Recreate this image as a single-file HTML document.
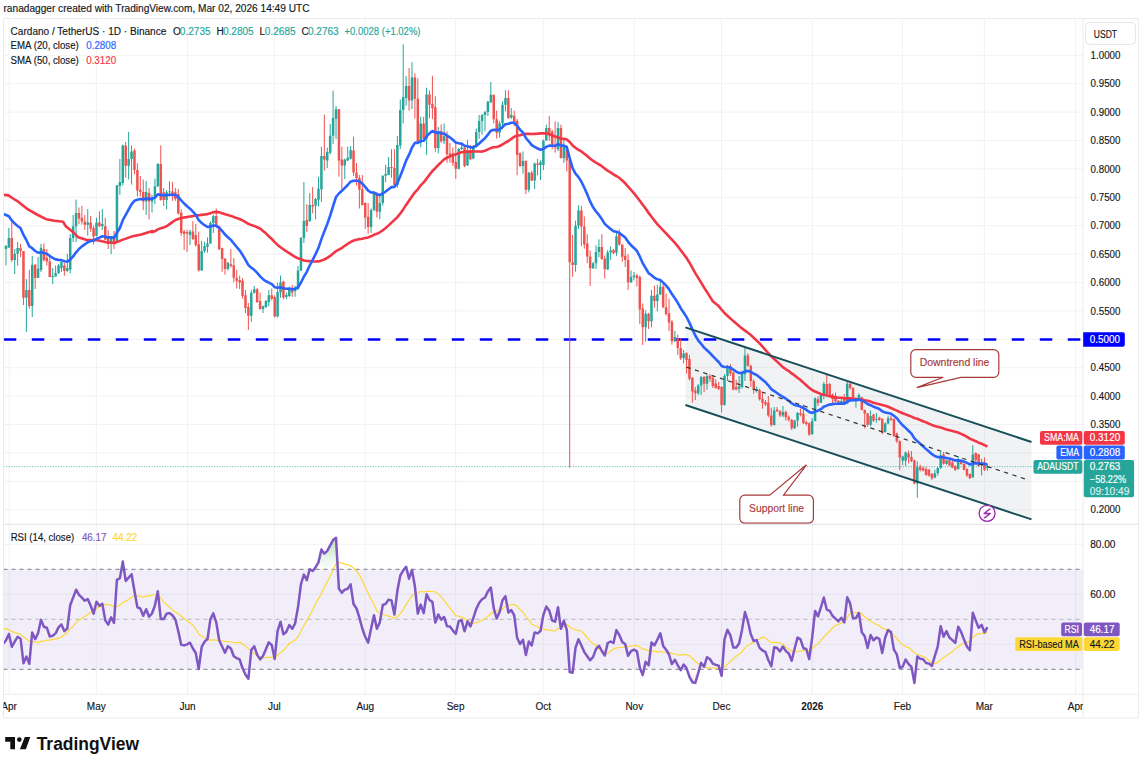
<!DOCTYPE html><html><head><meta charset="utf-8"><style>html,body{margin:0;padding:0;background:#fff;}svg{display:block;}</style></head><body><svg width="1144" height="764" viewBox="0 0 1144 764" font-family='"Liberation Sans", sans-serif'>
<rect width="1144" height="764" fill="#ffffff"/>
<text x="3.5" y="11.9" font-size="10.2" fill="#131722" text-anchor="start" font-weight="normal" stroke="#131722" stroke-width="0.15" textLength="306" lengthAdjust="spacingAndGlyphs">ranadagger created with TradingView.com, Mar 02, 2026 14:49 UTC</text>
<defs><clipPath id="cm"><rect x="3.5" y="18.5" width="1079.5" height="505.79999999999995"/></clipPath><clipPath id="cr"><rect x="3.5" y="524.3" width="1079.5" height="170.0"/></clipPath><clipPath id="ct"><rect x="3.5" y="694.3" width="1079.5" height="23.700000000000045"/></clipPath></defs>
<path d="M9.0 18.5V694.3 M96.3 18.5V694.3 M187.6 18.5V694.3 M274.3 18.5V694.3 M365.3 18.5V694.3 M455.6 18.5V694.3 M543.3 18.5V694.3 M634.3 18.5V694.3 M721.5 18.5V694.3 M812.3 18.5V694.3 M902.4 18.5V694.3 M984.3 18.5V694.3 M1075.5 18.5V694.3 M3.5 55.3H1083 M3.5 83.7H1083 M3.5 112.1H1083 M3.5 140.5H1083 M3.5 168.9H1083 M3.5 197.3H1083 M3.5 225.7H1083 M3.5 254.1H1083 M3.5 282.5H1083 M3.5 310.9H1083 M3.5 339.3H1083 M3.5 367.7H1083 M3.5 396.1H1083 M3.5 424.5H1083 M3.5 452.9H1083 M3.5 481.3H1083 M3.5 509.7H1083 M3.5 544.3H1083 M3.5 594.3H1083 M3.5 644.3H1083" stroke="#f2f2f3" stroke-width="1" fill="none"/>
<g clip-path="url(#cm)">
<polygon points="685.4,327.4 1031.5,442.0 1031.5,519.4 685.4,405.0" fill="#5d6b80" fill-opacity="0.09"/>
<path d="M3.5 466.6H1034" stroke="#26a69a" stroke-width="1" stroke-dasharray="1 1.6" opacity="0.8"/>
<path d="M3.8 339.5H1083" stroke="#0000ff" stroke-width="2.6" stroke-dasharray="12.5 15.5"/>
<path d="M5.95 245.0V265.5M8.87 228.0V248.0M14.71 249.0V274.0M17.63 242.0V265.5M26.40 279.0V332.0M32.24 256.0V317.0M38.08 257.0V278.0M41.00 244.0V272.0M52.68 268.0V284.0M55.61 265.5V276.5M58.53 264.0V274.0M61.45 262.0V272.0M67.29 253.8V271.8M70.21 234.0V273.4M73.13 215.0V242.0M76.05 199.6V242.0M87.74 209.0V235.7M96.50 217.7V236.5M102.34 209.0V230.0M111.11 237.0V254.0M116.95 185.0V242.4M119.87 159.0V194.8M122.79 144.6V185.4M128.63 131.8V179.5M131.55 145.4V184.6M146.16 181.0V215.0M152.00 194.8V212.6M154.92 178.6V204.0M157.84 163.0V187.0M166.60 190.0V209.3M169.53 181.3V196.6M189.97 229.8V245.0M201.66 240.8V270.6M204.58 241.7V252.7M207.50 237.4V252.7M210.42 221.3V243.4M213.34 214.5V233.0M227.94 262.0V270.6M251.31 290.0V321.7M254.23 286.0V293.6M263.00 305.5V313.0M265.92 300.0V308.0M268.84 290.0V306.3M277.60 282.5V317.4M280.52 275.6V297.7M286.37 292.5V299.3M289.29 286.6V296.8M295.13 285.7V296.8M298.05 266.0V290.0M300.97 237.0V271.2M303.89 182.0V243.0M309.73 193.0V222.0M315.57 198.0V219.3M318.50 176.8V206.6M321.42 146.8V202.0M327.26 147.6V168.0M330.18 123.8V154.4M333.10 90.6V144.2M336.02 106.0V139.0M344.78 158.7V179.0M347.71 146.8V161.2M350.63 146.0V159.5M371.07 208.3V233.0M374.00 191.0V211.0M379.84 194.7V219.3M382.76 175.0V205.7M385.68 164.8V182.2M388.60 157.0V174.9M397.36 136.0V187.7M400.28 99.7V149.0M403.20 44.4V123.5M406.13 75.8V105.6M411.97 62.2V109.0M420.73 116.7V147.3M426.57 87.7V155.0M438.26 126.9V153.3M444.10 123.5V144.0M458.70 148.0V169.5M461.62 145.0V150.0M467.47 139.8V166.0M473.31 145.0V159.3M476.23 128.7V147.4M479.15 115.0V139.0M482.07 114.0V134.7M484.99 110.8V131.3M487.91 101.0V116.0M490.83 82.0V103.0M499.60 120.8V137.8M502.52 101.3V129.3M505.44 90.2V111.5M511.28 108.0V119.0M522.97 151.5V173.6M528.81 171.9V192.3M534.65 162.5V189.0M540.49 160.4V180.0M543.41 139.6V170.0M546.33 124.7V140.8M558.02 122.0V151.0M563.86 140.0V163.0M575.54 220.6V271.7M578.46 205.3V229.0M593.07 262.0V269.0M595.99 245.3V269.0M598.91 239.3V257.2M607.67 250.0V270.0M610.60 246.5V260.0M616.44 232.0V255.8M631.04 270.3V283.0M633.96 272.0V280.5M645.65 310.3V341.8M651.49 289.9V327.3M657.33 284.8V311.5M660.25 280.5V295.0M674.86 331.0V342.0M683.62 349.8V363.4M698.23 384.0V395.0M701.15 376.0V394.9M706.99 374.4V389.6M724.51 374.2V405.7M727.44 364.9V381.0M739.12 376.0V393.0M742.04 370.8V388.7M744.96 347.0V381.0M756.65 386.6V392.5M774.17 407.0V425.7M782.93 406.0V417.2M794.62 419.8V429.0M797.54 412.0V426.6M812.14 417.9V434.9M815.07 397.4V421.3M820.91 393.0V403.0M823.83 381.8V399.3M841.35 398.3V405.0M847.20 382.0V404.2M855.96 396.9V407.7M858.88 393.3V399.5M870.56 410.6V426.3M876.41 412.9V422.7M885.17 422.5V432.7M888.09 415.7V424.2M902.70 455.7V465.0M905.62 451.5V466.0M917.30 461.3V497.8M934.83 469.8V478.3M937.75 467.2V475.7M940.67 452.0V469.0M946.51 459.6V464.7M958.19 456.0V469.7M972.80 445.2V477.6M981.56 458.9V475.4M987.40 464.0V470.8" stroke="#26a69a" stroke-width="1" fill="none"/>
<path d="M11.79 220.0V262.0M20.55 244.0V257.0M23.47 251.0V305.0M29.32 270.0V308.7M35.16 264.0V289.0M43.92 243.5V261.6M46.84 249.0V265.5M49.76 254.5V277.0M64.37 263.0V275.8M78.97 207.5V224.0M81.89 206.0V224.7M84.82 215.0V230.0M90.66 216.0V231.8M93.58 225.5V244.4M99.42 211.4V227.0M105.26 217.7V239.7M108.18 230.0V249.0M114.03 231.0V249.0M125.71 142.0V177.7M134.47 148.8V174.3M137.39 163.3V196.5M140.31 176.0V196.5M143.24 179.5V210.0M149.08 188.0V219.4M160.76 145.4V200.7M163.68 188.0V206.0M172.45 182.0V200.8M175.37 188.0V200.8M178.29 189.0V214.5M181.21 209.3V235.7M184.13 229.8V250.0M187.05 229.8V252.0M192.89 221.0V240.0M195.81 223.8V246.8M198.73 231.5V271.5M216.26 208.5V228.0M219.18 225.5V250.0M222.10 247.6V271.8M225.02 258.3V274.8M230.87 249.1V267.7M233.79 258.0V282.4M236.71 269.8V288.5M239.63 275.6V289.0M242.55 278.0V298.7M245.47 290.0V313.0M248.39 303.0V330.0M257.15 288.0V303.0M260.08 292.7V309.7M271.76 288.5V300.4M274.68 295.3V317.4M283.44 280.6V299.3M292.21 284.9V296.8M306.81 204.0V232.0M312.65 187.0V213.4M324.34 114.5V170.6M338.94 109.3V176.6M341.86 146.8V190.0M353.55 136.8V176.0M356.47 163.0V185.5M359.39 175.0V208.5M362.31 175.0V205.5M365.23 202.3V228.7M368.15 203.0V233.8M376.92 192.0V217.6M391.52 149.2V177.7M394.44 149.2V186.8M409.05 68.0V110.7M414.89 73.3V118.4M417.81 78.4V143.9M423.65 116.7V139.6M429.49 90.3V118.4M432.41 75.8V119.2M435.34 96.3V151.6M441.18 124.3V143.0M447.02 131.3V162.7M449.94 143.0V162.7M452.86 147.4V166.0M455.78 143.0V178.9M464.55 145.0V167.0M470.39 145.0V160.0M493.76 94.7V123.4M496.68 110.6V138.7M508.36 90.2V118.3M514.20 110.6V126.0M517.12 119.0V175.3M520.04 152.3V166.8M525.89 160.8V194.0M531.73 171.0V181.0M537.57 159.0V175.3M549.25 116.0V140.8M552.18 129.8V149.3M555.10 121.3V152.7M560.94 124.7V158.7M566.78 146.8V171.5M569.70 159.6V467.7M572.62 235.0V276.8M581.39 206.0V246.0M584.31 216.4V248.7M587.23 234.2V263.2M590.15 250.4V286.0M601.83 234.2V259.8M604.75 255.5V278.5M613.52 249.0V254.0M619.36 229.5V245.6M622.28 244.0V261.8M625.20 248.0V267.0M628.12 254.0V289.9M636.88 273.7V286.5M639.81 275.4V324.0M642.73 303.5V345.0M648.57 312.8V329.0M654.41 285.6V307.7M663.17 282.0V308.0M666.09 293.6V315.7M669.02 298.7V331.0M671.94 320.0V344.7M677.78 334.5V354.9M680.70 338.7V360.0M686.54 352.3V373.6M689.46 354.9V380.4M692.38 377.0V402.5M695.30 387.0V400.0M704.07 376.0V392.3M709.91 374.0V382.0M712.83 375.0V388.0M715.75 379.3V388.7M718.67 382.0V390.0M721.59 386.2V412.5M730.36 364.0V376.0M733.28 371.7V390.4M736.20 380.0V390.4M747.88 353.0V366.6M750.80 364.9V387.0M753.72 379.3V393.8M759.57 388.7V400.6M762.49 392.5V408.7M765.41 400.0V406.0M768.33 396.0V417.2M771.25 407.8V426.6M777.09 407.0V412.0M780.01 410.0V417.0M785.86 410.4V420.6M788.78 415.5V421.5M791.70 419.0V430.0M800.46 408.7V416.4M803.38 404.5V424.0M806.30 420.6V425.7M809.22 422.3V436.0M817.99 396.2V405.9M826.75 375.0V394.5M829.67 383.0V395.7M832.59 393.6V404.6M835.51 392.5V402.0M838.43 400.0V404.5M844.28 394.0V405.0M850.12 381.3V389.8M853.04 387.0V400.0M861.80 396.9V410.3M864.72 409.6V428.6M867.64 413.2V426.6M873.49 413.9V422.0M879.33 416.8V420.8M882.25 418.3V433.6M891.01 415.7V421.0M893.93 418.3V437.0M896.85 432.7V443.0M899.77 440.4V470.2M908.54 450.6V463.4M911.46 451.0V462.0M914.38 459.6V484.4M920.22 464.7V471.5M923.14 466.4V471.5M926.06 467.2V475.7M928.98 468.9V476.6M931.91 473.0V480.0M943.59 452.0V464.7M949.43 458.9V466.0M952.35 461.0V468.2M955.27 465.4V471.0M961.12 460.3V464.7M964.04 463.2V470.4M966.96 468.2V476.9M969.88 473.3V479.0M975.72 452.4V461.8M978.64 453.8V466.8M984.48 457.4V471.0" stroke="#ef5350" stroke-width="1" fill="none"/>
<path d="M4.70 246.0h2.5V249.0h-2.5ZM7.62 238.0h2.5V247.5h-2.5ZM13.46 253.7h2.5V260.0h-2.5ZM16.38 248.0h2.5V253.7h-2.5ZM25.15 290.0h2.5V297.7h-2.5ZM30.99 264.7h2.5V306.0h-2.5ZM36.83 268.7h2.5V278.0h-2.5ZM39.75 248.0h2.5V270.0h-2.5ZM51.43 276.0h2.5V277.0h-2.5ZM54.36 273.0h2.5V276.5h-2.5ZM57.28 265.5h2.5V273.0h-2.5ZM60.20 262.0h2.5V268.0h-2.5ZM66.04 268.0h2.5V271.0h-2.5ZM68.96 238.0h2.5V269.5h-2.5ZM71.88 226.3h2.5V238.0h-2.5ZM74.80 213.0h2.5V226.3h-2.5ZM86.49 222.4h2.5V224.7h-2.5ZM95.25 222.4h2.5V235.7h-2.5ZM101.09 224.0h2.5V226.3h-2.5ZM109.86 237.0h2.5V244.0h-2.5ZM115.70 185.4h2.5V242.4h-2.5ZM118.62 182.0h2.5V186.0h-2.5ZM121.54 145.4h2.5V182.9h-2.5ZM127.38 159.0h2.5V165.8h-2.5ZM130.30 151.4h2.5V159.0h-2.5ZM144.91 192.0h2.5V201.6h-2.5ZM150.75 197.3h2.5V201.6h-2.5ZM153.67 186.3h2.5V198.0h-2.5ZM156.59 164.0h2.5V186.3h-2.5ZM165.35 192.3h2.5V200.0h-2.5ZM168.28 191.5h2.5V192.3h-2.5ZM188.72 231.5h2.5V235.0h-2.5ZM200.41 251.0h2.5V270.6h-2.5ZM203.33 246.0h2.5V251.0h-2.5ZM206.25 243.4h2.5V246.8h-2.5ZM209.17 223.0h2.5V243.4h-2.5ZM212.09 216.0h2.5V223.0h-2.5ZM226.69 262.7h2.5V268.9h-2.5ZM250.06 292.7h2.5V315.7h-2.5ZM252.98 289.3h2.5V292.7h-2.5ZM261.75 306.3h2.5V309.0h-2.5ZM264.67 301.0h2.5V307.0h-2.5ZM267.59 295.3h2.5V302.0h-2.5ZM276.35 292.0h2.5V316.6h-2.5ZM279.27 282.5h2.5V292.5h-2.5ZM285.12 295.0h2.5V297.0h-2.5ZM288.04 288.3h2.5V296.0h-2.5ZM293.88 287.5h2.5V291.0h-2.5ZM296.80 270.4h2.5V289.0h-2.5ZM299.72 238.0h2.5V270.4h-2.5ZM302.64 221.0h2.5V238.0h-2.5ZM308.48 205.0h2.5V221.0h-2.5ZM314.32 199.0h2.5V205.7h-2.5ZM317.25 188.7h2.5V199.8h-2.5ZM320.17 156.0h2.5V189.6h-2.5ZM326.01 151.9h2.5V160.4h-2.5ZM328.93 135.7h2.5V152.7h-2.5ZM331.85 117.9h2.5V135.7h-2.5ZM334.77 109.3h2.5V118.7h-2.5ZM343.53 159.5h2.5V165.5h-2.5ZM346.46 157.8h2.5V160.4h-2.5ZM349.38 150.0h2.5V158.7h-2.5ZM369.82 210.0h2.5V227.0h-2.5ZM372.75 192.0h2.5V210.0h-2.5ZM378.59 203.0h2.5V211.7h-2.5ZM381.51 176.0h2.5V203.0h-2.5ZM384.43 174.0h2.5V175.8h-2.5ZM387.35 167.1h2.5V174.9h-2.5ZM396.11 145.1h2.5V185.0h-2.5ZM399.03 109.9h2.5V145.6h-2.5ZM401.95 97.0h2.5V109.9h-2.5ZM404.88 86.0h2.5V98.0h-2.5ZM410.72 77.5h2.5V100.5h-2.5ZM419.48 123.5h2.5V143.0h-2.5ZM425.32 94.6h2.5V138.8h-2.5ZM437.01 131.0h2.5V148.0h-2.5ZM442.85 136.2h2.5V141.3h-2.5ZM457.45 149.0h2.5V168.7h-2.5ZM460.38 147.4h2.5V149.0h-2.5ZM466.22 150.8h2.5V165.3h-2.5ZM472.06 146.6h2.5V158.5h-2.5ZM474.98 132.0h2.5V146.6h-2.5ZM477.90 121.0h2.5V132.0h-2.5ZM480.82 115.0h2.5V121.0h-2.5ZM483.74 112.0h2.5V115.0h-2.5ZM486.66 101.5h2.5V112.0h-2.5ZM489.58 94.7h2.5V102.3h-2.5ZM498.35 123.4h2.5V132.7h-2.5ZM501.27 104.7h2.5V123.4h-2.5ZM504.19 97.9h2.5V104.7h-2.5ZM510.03 114.9h2.5V117.4h-2.5ZM521.72 160.8h2.5V166.0h-2.5ZM527.56 172.7h2.5V189.7h-2.5ZM533.40 163.4h2.5V180.4h-2.5ZM539.24 162.0h2.5V165.0h-2.5ZM542.16 140.4h2.5V165.0h-2.5ZM545.08 128.0h2.5V140.4h-2.5ZM556.77 128.0h2.5V149.3h-2.5ZM562.61 146.8h2.5V157.9h-2.5ZM574.29 225.7h2.5V264.9h-2.5ZM577.21 210.4h2.5V225.7h-2.5ZM591.82 263.2h2.5V268.3h-2.5ZM594.74 252.0h2.5V263.2h-2.5ZM597.66 247.0h2.5V252.0h-2.5ZM606.42 252.4h2.5V269.5h-2.5ZM609.35 250.4h2.5V252.4h-2.5ZM615.19 236.3h2.5V252.4h-2.5ZM629.79 277.0h2.5V282.2h-2.5ZM632.71 275.4h2.5V277.0h-2.5ZM644.40 313.7h2.5V327.3h-2.5ZM650.24 295.8h2.5V321.3h-2.5ZM656.08 294.5h2.5V301.0h-2.5ZM659.00 286.8h2.5V294.5h-2.5ZM673.61 337.0h2.5V341.3h-2.5ZM682.37 353.2h2.5V358.3h-2.5ZM696.98 385.5h2.5V393.2h-2.5ZM699.90 377.0h2.5V385.5h-2.5ZM705.74 376.0h2.5V383.8h-2.5ZM723.26 376.0h2.5V404.9h-2.5ZM726.19 366.6h2.5V376.0h-2.5ZM737.87 386.2h2.5V388.7h-2.5ZM740.79 374.2h2.5V387.0h-2.5ZM743.71 355.5h2.5V374.2h-2.5ZM755.40 389.0h2.5V391.0h-2.5ZM772.92 410.4h2.5V424.9h-2.5ZM781.68 412.0h2.5V415.5h-2.5ZM793.37 420.6h2.5V428.3h-2.5ZM796.29 413.0h2.5V420.6h-2.5ZM810.89 421.0h2.5V434.0h-2.5ZM813.82 398.3h2.5V421.0h-2.5ZM819.66 394.6h2.5V402.7h-2.5ZM822.58 384.1h2.5V395.7h-2.5ZM840.10 400.9h2.5V403.5h-2.5ZM845.95 383.8h2.5V403.4h-2.5ZM854.71 398.8h2.5V399.8h-2.5ZM857.63 395.0h2.5V399.0h-2.5ZM869.31 415.9h2.5V424.7h-2.5ZM875.16 419.0h2.5V419.8h-2.5ZM883.92 423.4h2.5V431.9h-2.5ZM886.84 418.3h2.5V423.4h-2.5ZM901.45 456.6h2.5V460.8h-2.5ZM904.37 452.5h2.5V460.8h-2.5ZM916.05 467.2h2.5V483.4h-2.5ZM933.58 473.2h2.5V477.4h-2.5ZM936.50 468.0h2.5V473.2h-2.5ZM939.42 455.3h2.5V468.0h-2.5ZM945.26 460.3h2.5V464.0h-2.5ZM956.94 460.3h2.5V469.0h-2.5ZM971.55 454.6h2.5V477.6h-2.5ZM980.31 463.6h2.5V465.0h-2.5ZM986.15 466.4h2.5V468.0h-2.5Z" fill="#26a69a"/>
<path d="M10.54 238.0h2.5V260.0h-2.5ZM19.30 248.0h2.5V251.0h-2.5ZM22.22 251.0h2.5V297.7h-2.5ZM28.07 290.0h2.5V306.0h-2.5ZM33.91 264.7h2.5V278.0h-2.5ZM42.67 249.0h2.5V260.0h-2.5ZM45.59 257.7h2.5V261.6h-2.5ZM48.51 261.6h2.5V277.0h-2.5ZM63.12 265.6h2.5V271.0h-2.5ZM77.72 213.0h2.5V218.5h-2.5ZM80.64 217.7h2.5V221.6h-2.5ZM83.57 221.6h2.5V224.7h-2.5ZM89.41 222.4h2.5V228.7h-2.5ZM92.33 228.0h2.5V236.5h-2.5ZM98.17 222.4h2.5V226.3h-2.5ZM104.01 226.3h2.5V239.7h-2.5ZM106.93 236.0h2.5V244.0h-2.5ZM112.78 236.5h2.5V242.4h-2.5ZM124.46 145.4h2.5V165.8h-2.5ZM133.22 150.5h2.5V170.0h-2.5ZM136.14 170.0h2.5V190.5h-2.5ZM139.06 189.7h2.5V192.0h-2.5ZM141.99 192.0h2.5V201.6h-2.5ZM147.83 193.0h2.5V201.6h-2.5ZM159.51 164.0h2.5V199.9h-2.5ZM162.43 192.3h2.5V200.0h-2.5ZM171.20 191.5h2.5V194.0h-2.5ZM174.12 192.3h2.5V199.0h-2.5ZM177.04 194.0h2.5V213.6h-2.5ZM179.96 212.7h2.5V233.0h-2.5ZM182.88 231.5h2.5V234.0h-2.5ZM185.80 231.9h2.5V233.4h-2.5ZM191.64 231.5h2.5V239.0h-2.5ZM194.56 235.0h2.5V245.0h-2.5ZM197.48 244.2h2.5V270.6h-2.5ZM215.01 216.0h2.5V226.4h-2.5ZM217.93 226.4h2.5V249.3h-2.5ZM220.85 248.2h2.5V258.9h-2.5ZM223.77 258.6h2.5V268.9h-2.5ZM229.62 264.2h2.5V265.9h-2.5ZM232.54 265.3h2.5V277.7h-2.5ZM235.46 277.7h2.5V280.7h-2.5ZM238.38 280.0h2.5V282.4h-2.5ZM241.30 280.8h2.5V296.0h-2.5ZM244.22 295.3h2.5V308.0h-2.5ZM247.14 307.0h2.5V315.7h-2.5ZM255.90 289.3h2.5V302.0h-2.5ZM258.83 301.0h2.5V309.0h-2.5ZM270.51 295.3h2.5V298.7h-2.5ZM273.43 297.0h2.5V316.6h-2.5ZM282.19 281.4h2.5V297.6h-2.5ZM290.96 289.0h2.5V292.5h-2.5ZM305.56 220.0h2.5V226.0h-2.5ZM311.40 205.0h2.5V206.6h-2.5ZM323.09 156.0h2.5V159.5h-2.5ZM337.69 109.3h2.5V160.4h-2.5ZM340.61 159.5h2.5V165.5h-2.5ZM352.30 150.4h2.5V172.4h-2.5ZM355.22 172.4h2.5V178.0h-2.5ZM358.14 178.0h2.5V189.7h-2.5ZM361.06 189.2h2.5V204.9h-2.5ZM363.98 203.0h2.5V217.6h-2.5ZM366.90 216.8h2.5V227.0h-2.5ZM375.67 193.8h2.5V211.7h-2.5ZM390.27 167.1h2.5V168.0h-2.5ZM393.19 168.0h2.5V185.0h-2.5ZM407.80 86.0h2.5V100.5h-2.5ZM413.64 77.5h2.5V98.8h-2.5ZM416.56 98.8h2.5V143.0h-2.5ZM422.40 123.5h2.5V138.8h-2.5ZM428.24 94.6h2.5V104.8h-2.5ZM431.16 104.0h2.5V108.2h-2.5ZM434.09 107.3h2.5V148.0h-2.5ZM439.93 131.0h2.5V141.3h-2.5ZM445.77 136.2h2.5V154.2h-2.5ZM448.69 153.4h2.5V155.0h-2.5ZM451.61 153.4h2.5V162.7h-2.5ZM454.53 161.9h2.5V168.7h-2.5ZM463.30 147.4h2.5V166.0h-2.5ZM469.14 150.0h2.5V159.3h-2.5ZM492.51 94.7h2.5V119.3h-2.5ZM495.43 119.3h2.5V132.7h-2.5ZM507.11 97.9h2.5V118.3h-2.5ZM512.95 115.7h2.5V121.7h-2.5ZM515.87 120.8h2.5V154.9h-2.5ZM518.79 153.2h2.5V166.0h-2.5ZM524.64 160.8h2.5V189.7h-2.5ZM530.48 172.7h2.5V180.4h-2.5ZM536.32 163.4h2.5V165.0h-2.5ZM548.00 128.0h2.5V133.2h-2.5ZM550.93 131.5h2.5V146.0h-2.5ZM553.85 145.0h2.5V147.6h-2.5ZM559.69 128.0h2.5V157.9h-2.5ZM565.53 146.8h2.5V160.4h-2.5ZM568.45 159.6h2.5V262.3h-2.5ZM571.37 262.3h2.5V264.9h-2.5ZM580.14 210.4h2.5V226.6h-2.5ZM583.06 226.6h2.5V244.5h-2.5ZM585.98 243.6h2.5V256.4h-2.5ZM588.90 256.4h2.5V268.3h-2.5ZM600.58 247.0h2.5V258.9h-2.5ZM603.50 258.4h2.5V269.3h-2.5ZM612.27 250.0h2.5V253.3h-2.5ZM618.11 234.0h2.5V244.8h-2.5ZM621.03 244.8h2.5V256.7h-2.5ZM623.95 255.8h2.5V260.0h-2.5ZM626.87 260.0h2.5V282.2h-2.5ZM635.63 275.4h2.5V278.0h-2.5ZM638.56 277.0h2.5V309.4h-2.5ZM641.48 308.6h2.5V327.3h-2.5ZM647.32 313.7h2.5V321.3h-2.5ZM653.16 295.8h2.5V301.0h-2.5ZM661.92 286.8h2.5V307.2h-2.5ZM664.84 307.2h2.5V314.0h-2.5ZM667.77 313.2h2.5V322.5h-2.5ZM670.69 321.7h2.5V341.3h-2.5ZM676.53 338.7h2.5V348.0h-2.5ZM679.45 348.0h2.5V358.3h-2.5ZM685.29 353.2h2.5V360.0h-2.5ZM688.21 359.0h2.5V378.7h-2.5ZM691.13 377.8h2.5V391.5h-2.5ZM694.05 390.6h2.5V393.2h-2.5ZM702.82 377.0h2.5V383.8h-2.5ZM708.66 376.0h2.5V378.7h-2.5ZM711.58 377.8h2.5V386.0h-2.5ZM714.50 383.6h2.5V387.9h-2.5ZM717.42 386.0h2.5V389.0h-2.5ZM720.34 387.0h2.5V404.9h-2.5ZM729.11 366.6h2.5V373.4h-2.5ZM732.03 372.5h2.5V389.6h-2.5ZM734.95 387.0h2.5V389.6h-2.5ZM746.63 355.5h2.5V365.7h-2.5ZM749.55 365.7h2.5V381.0h-2.5ZM752.47 381.0h2.5V390.0h-2.5ZM758.32 390.0h2.5V399.3h-2.5ZM761.24 398.5h2.5V402.7h-2.5ZM764.16 401.9h2.5V404.4h-2.5ZM767.08 402.7h2.5V415.5h-2.5ZM770.00 415.5h2.5V424.9h-2.5ZM775.84 409.6h2.5V411.3h-2.5ZM778.76 411.3h2.5V415.5h-2.5ZM784.61 412.0h2.5V417.2h-2.5ZM787.53 417.2h2.5V419.8h-2.5ZM790.45 419.8h2.5V428.3h-2.5ZM799.21 413.0h2.5V414.7h-2.5ZM802.13 413.8h2.5V423.2h-2.5ZM805.05 422.3h2.5V424.0h-2.5ZM807.97 423.2h2.5V434.5h-2.5ZM816.74 399.3h2.5V403.0h-2.5ZM825.50 384.1h2.5V394.1h-2.5ZM828.42 384.1h2.5V395.1h-2.5ZM831.34 394.6h2.5V399.3h-2.5ZM834.26 395.7h2.5V401.4h-2.5ZM837.18 400.9h2.5V403.5h-2.5ZM843.03 397.4h2.5V404.2h-2.5ZM848.87 383.8h2.5V388.0h-2.5ZM851.79 388.0h2.5V399.0h-2.5ZM860.55 397.2h2.5V410.0h-2.5ZM863.47 410.0h2.5V413.6h-2.5ZM866.39 413.2h2.5V424.7h-2.5ZM872.24 414.5h2.5V420.8h-2.5ZM878.08 417.5h2.5V420.1h-2.5ZM881.00 418.8h2.5V433.2h-2.5ZM889.76 418.3h2.5V420.0h-2.5ZM892.68 419.0h2.5V436.0h-2.5ZM895.60 433.6h2.5V441.3h-2.5ZM898.52 441.3h2.5V457.4h-2.5ZM907.29 453.4h2.5V457.6h-2.5ZM910.21 457.0h2.5V461.3h-2.5ZM913.13 460.4h2.5V483.6h-2.5ZM918.97 467.2h2.5V469.8h-2.5ZM921.89 468.0h2.5V470.6h-2.5ZM924.81 469.0h2.5V475.0h-2.5ZM927.73 469.8h2.5V475.7h-2.5ZM930.66 474.0h2.5V478.3h-2.5ZM942.34 454.5h2.5V463.8h-2.5ZM948.18 460.3h2.5V465.4h-2.5ZM951.10 462.5h2.5V467.5h-2.5ZM954.02 466.0h2.5V469.7h-2.5ZM959.87 461.0h2.5V464.0h-2.5ZM962.79 464.0h2.5V469.7h-2.5ZM965.71 469.0h2.5V475.4h-2.5ZM968.63 474.0h2.5V478.3h-2.5ZM974.47 453.0h2.5V460.3h-2.5ZM977.39 454.6h2.5V466.0h-2.5ZM983.23 461.8h2.5V469.7h-2.5Z" fill="#ef5350"/>
<polyline points="3.5,194.7 8.4,195.4 13.0,198.5 18.2,201.7 28.0,209.4 37.8,215.0 46.2,219.2 54.5,220.8 63.0,221.7 65.7,226.2 72.7,231.7 78.3,237.3 86.7,240.1 96.5,240.1 106.3,242.2 114.7,243.0 121.7,240.1 131.5,236.6 141.3,234.5 152.4,231.0 152.0,232.3 154.9,231.3 157.8,229.4 160.8,228.3 163.7,227.4 166.6,226.2 169.5,224.1 172.4,222.1 175.4,220.0 178.3,219.0 181.2,218.1 184.1,217.4 187.1,217.1 190.0,216.5 192.9,216.1 195.8,215.4 198.7,215.3 201.7,214.9 204.6,214.5 207.5,214.1 210.4,213.2 213.3,212.1 216.3,211.9 219.2,212.3 222.1,213.3 225.0,214.3 227.9,215.1 230.9,215.9 233.8,217.0 236.7,218.1 239.6,219.0 242.5,220.4 245.5,222.1 248.4,223.9 251.3,225.0 254.2,225.9 257.2,227.2 260.1,228.5 263.0,230.9 265.9,233.3 268.8,236.3 271.8,239.0 274.7,242.1 277.6,244.9 280.5,247.2 283.4,249.3 286.4,251.4 289.3,253.1 292.2,255.1 295.1,256.8 298.0,258.3 301.0,259.3 303.9,260.5 306.8,261.0 309.7,261.1 312.7,261.4 315.6,261.5 318.5,261.4 321.4,260.6 324.3,259.5 327.3,257.9 330.2,255.9 333.1,253.6 336.0,251.2 338.9,249.6 341.9,248.0 344.8,245.8 347.7,243.9 350.6,242.0 353.5,240.6 356.5,239.7 359.4,239.1 362.3,238.7 365.2,238.1 368.2,237.4 371.1,236.3 374.0,234.8 376.9,233.8 379.8,232.3 382.8,230.2 385.7,228.0 388.6,225.4 391.5,222.6 394.4,220.0 397.4,217.1 400.3,213.5 403.2,209.4 406.1,204.9 409.0,200.8 412.0,196.3 414.9,192.4 417.8,189.3 420.7,185.4 423.7,182.4 426.6,178.6 429.5,174.7 432.4,171.0 435.3,168.2 438.3,165.0 441.2,162.1 444.1,159.4 447.0,157.7 449.9,156.4 452.9,155.1 455.8,154.4 458.7,153.2 461.6,152.2 464.5,151.7 467.5,151.6 470.4,151.6 473.3,151.5 476.2,151.5 479.2,151.5 482.1,151.6 485.0,150.7 487.9,149.4 490.8,148.1 493.8,147.3 496.7,147.0 499.6,146.0 502.5,144.5 505.4,142.7 508.4,141.0 511.3,138.9 514.2,136.8 517.1,135.7 520.0,135.2 523.0,134.2 525.9,133.9 528.8,133.8 531.7,134.0 534.6,133.9 537.6,133.8 540.5,133.4 543.4,133.3 546.3,133.6 549.3,134.3 552.2,135.5 555.1,136.5 558.0,137.5 560.9,138.7 563.9,138.8 566.8,139.5 569.7,142.0 572.6,145.4 575.5,147.8 578.5,149.8 581.4,151.4 584.3,153.7 587.2,156.0 590.1,158.6 593.1,160.8 596.0,162.7 598.9,164.4 601.8,166.2 604.8,168.6 607.7,170.7 610.6,172.4 613.5,174.5 616.4,176.0 619.4,178.0 622.3,180.5 625.2,183.3 628.1,186.6 631.0,189.9 634.0,193.4 636.9,197.0 639.8,200.8 642.7,204.7 645.6,208.5 648.6,212.9 651.5,216.8 654.4,220.5 657.3,224.1 660.3,227.4 663.2,230.4 666.1,233.4 669.0,236.6 671.9,239.7 674.9,242.9 677.8,246.3 680.7,250.2 683.6,254.0 686.5,257.9 689.5,262.7 692.4,267.9 695.3,273.1 698.2,277.9 701.1,282.5 704.1,287.6 707.0,292.0 709.9,296.6 712.8,301.2 715.8,303.7 718.7,306.1 721.6,309.7 724.5,313.0 727.4,315.8 730.4,318.4 733.3,321.1 736.2,323.5 739.1,326.0 742.0,328.4 745.0,330.6 747.9,332.7 750.8,335.0 753.7,337.7 756.6,340.5 759.6,343.4 762.5,346.7 765.4,349.9 768.3,353.1 771.3,356.4 774.2,359.0 777.1,361.6 780.0,364.4 782.9,367.1 785.9,369.3 788.8,371.1 791.7,373.4 794.6,375.4 797.5,377.8 800.5,380.0 803.4,382.6 806.3,385.3 809.2,387.9 812.1,390.0 815.1,391.5 818.0,392.8 820.9,393.9 823.8,394.7 826.8,395.4 829.7,396.2 832.6,397.0 835.5,397.4 838.4,397.7 841.4,397.8 844.3,398.2 847.2,398.4 850.1,398.4 853.0,398.9 856.0,399.3 858.9,399.5 861.8,399.9 864.7,400.4 867.6,400.8 870.6,401.6 873.5,402.7 876.4,403.6 879.3,404.2 882.2,405.1 885.2,405.8 888.1,406.7 891.0,408.0 893.9,409.4 896.9,410.6 899.8,412.0 902.7,413.3 905.6,414.4 908.5,415.5 911.5,416.6 914.4,418.0 917.3,418.8 920.2,420.0 923.1,421.2 926.1,422.4 929.0,423.7 931.9,424.9 934.8,425.9 937.7,426.7 940.7,427.4 943.6,428.5 946.5,429.4 949.4,430.2 952.4,431.1 955.3,431.8 958.2,432.6 961.1,433.9 964.0,435.2 967.0,436.8 969.9,438.7 972.8,439.9 975.7,441.2 978.6,442.6 981.6,443.8 984.5,445.1 987.4,446.5" fill="none" stroke="#f23645" stroke-width="2.6" stroke-linejoin="round"/>
<polyline points="3.5,214.0 8.9,216.3 11.8,220.4 14.7,223.6 17.6,225.9 20.6,228.3 23.5,234.9 26.4,240.2 29.3,246.4 32.2,248.2 35.2,251.0 38.1,252.7 41.0,252.3 43.9,253.0 46.8,253.8 49.8,256.0 52.7,257.9 55.6,259.4 58.5,259.9 61.4,260.1 64.4,261.2 67.3,261.8 70.2,259.6 73.1,256.4 76.1,252.3 79.0,249.0 81.9,246.4 84.8,244.4 87.7,242.3 90.7,241.0 93.6,240.5 96.5,238.8 99.4,237.6 102.3,236.3 105.3,236.7 108.2,237.4 111.1,237.3 114.0,237.8 116.9,232.8 119.9,228.0 122.8,220.1 125.7,214.9 128.6,209.6 131.6,204.1 134.5,200.8 137.4,199.8 140.3,199.1 143.2,199.3 146.2,198.6 149.1,198.9 152.0,198.8 154.9,197.6 157.8,194.4 160.8,194.9 163.7,195.4 166.6,195.1 169.5,194.8 172.4,194.7 175.4,195.1 178.3,196.9 181.2,200.3 184.1,203.5 187.1,206.3 190.0,208.7 192.9,211.6 195.8,214.8 198.7,220.1 201.7,223.0 204.6,225.2 207.5,227.0 210.4,226.6 213.3,225.6 216.3,225.7 219.2,227.9 222.1,230.9 225.0,234.5 227.9,237.2 230.9,239.9 233.8,243.5 236.7,247.0 239.6,250.4 242.5,254.8 245.5,259.8 248.4,265.1 251.3,267.8 254.2,269.8 257.2,272.9 260.1,276.3 263.0,279.2 265.9,281.3 268.8,282.6 271.8,284.1 274.7,287.2 277.6,287.7 280.5,287.2 283.4,288.2 286.4,288.8 289.3,288.8 292.2,289.1 295.1,289.0 298.0,287.2 301.0,282.5 303.9,276.7 306.8,271.8 309.7,265.5 312.7,259.9 315.6,254.1 318.5,247.8 321.4,239.1 324.3,231.5 327.3,223.9 330.2,215.5 333.1,206.2 336.0,197.0 338.9,193.5 341.9,190.8 344.8,187.9 347.7,185.0 350.6,181.7 353.5,180.8 356.5,180.5 359.4,181.4 362.3,183.6 365.2,186.9 368.2,190.7 371.1,192.5 374.0,192.5 376.9,194.3 379.8,195.1 382.8,193.3 385.7,191.5 388.6,189.2 391.5,187.1 394.4,186.9 397.4,183.0 400.3,176.0 403.2,168.5 406.1,160.6 409.0,154.9 412.0,147.5 414.9,142.9 417.8,142.9 420.7,141.0 423.7,140.8 426.6,136.4 429.5,133.4 432.4,131.0 435.3,132.6 438.3,132.5 441.2,133.3 444.1,133.6 447.0,135.6 449.9,137.4 452.9,139.8 455.8,142.6 458.7,143.2 461.6,143.6 464.5,145.7 467.5,146.2 470.4,147.4 473.3,147.4 476.2,145.9 479.2,143.5 482.1,140.8 485.0,138.1 487.9,134.6 490.8,130.8 493.8,129.7 496.7,130.0 499.6,129.4 502.5,127.0 505.4,124.2 508.4,123.7 511.3,122.8 514.2,122.7 517.1,125.8 520.0,129.6 523.0,132.6 525.9,138.0 528.8,141.3 531.7,145.1 534.6,146.8 537.6,148.5 540.5,149.8 543.4,148.9 546.3,146.9 549.3,145.6 552.2,145.7 555.1,145.8 558.0,144.1 560.9,145.5 563.9,145.6 566.8,147.0 569.7,158.0 572.6,168.2 575.5,173.6 578.5,177.1 581.4,181.8 584.3,187.8 587.2,194.3 590.1,201.4 593.1,207.3 596.0,211.5 598.9,214.9 601.8,219.1 604.8,223.9 607.7,226.6 610.6,228.9 613.5,231.2 616.4,231.7 619.4,232.9 622.3,235.2 625.2,237.6 628.1,241.8 631.0,245.2 634.0,248.0 636.9,250.9 639.8,256.5 642.7,263.2 645.6,268.0 648.6,273.1 651.5,275.3 654.4,277.7 657.3,279.3 660.3,280.0 663.2,282.6 666.1,285.6 669.0,289.1 671.9,294.1 674.9,298.2 677.8,302.9 680.7,308.2 683.6,312.5 686.5,317.0 689.5,322.9 692.4,329.4 695.3,335.5 698.2,340.3 701.1,343.8 704.1,347.6 707.0,350.3 709.9,353.0 712.8,356.1 715.8,359.2 718.7,362.0 721.6,366.1 724.5,367.0 727.4,367.0 730.4,367.6 733.3,369.7 736.2,371.6 739.1,373.0 742.0,373.1 745.0,371.4 747.9,370.9 750.8,371.8 753.7,373.6 756.6,375.0 759.6,377.3 762.5,379.8 765.4,382.1 768.3,385.3 771.3,389.1 774.2,391.1 777.1,393.0 780.0,395.2 782.9,396.8 785.9,398.7 788.8,400.7 791.7,403.3 794.6,405.0 797.5,405.8 800.5,406.6 803.4,408.2 806.3,409.7 809.2,412.1 812.1,412.9 815.1,411.5 818.0,410.7 820.9,409.2 823.8,406.8 826.8,405.6 829.7,404.6 832.6,404.1 835.5,403.8 838.4,403.8 841.4,403.5 844.3,403.6 847.2,401.7 850.1,400.4 853.0,400.3 856.0,400.1 858.9,399.6 861.8,400.6 864.7,401.9 867.6,404.0 870.6,405.2 873.5,406.7 876.4,407.8 879.3,409.0 882.2,411.3 885.2,412.5 888.1,413.0 891.0,413.7 893.9,415.8 896.9,418.2 899.8,422.0 902.7,425.3 905.6,427.9 908.5,430.7 911.5,433.6 914.4,438.4 917.3,441.1 920.2,443.8 923.1,446.4 926.1,449.1 929.0,451.6 931.9,454.2 934.8,456.0 937.7,457.1 940.7,457.0 943.6,457.6 946.5,457.9 949.4,458.6 952.4,459.4 955.3,460.4 958.2,460.4 961.1,460.7 964.0,461.6 967.0,462.9 969.9,464.4 972.8,463.4 975.7,463.1 978.6,463.4 981.6,463.5 984.5,464.1 987.4,464.3" fill="none" stroke="#2962ff" stroke-width="2.6" stroke-linejoin="round"/>
<line x1="685.4" y1="327.4" x2="1031.5" y2="442.0" stroke="#164e5a" stroke-width="2"/>
<line x1="685.4" y1="405.0" x2="1031.5" y2="519.4" stroke="#164e5a" stroke-width="2"/>
<line x1="686.5" y1="367.1" x2="1027" y2="479.6" stroke="#333" stroke-width="1.2" stroke-dasharray="4.3 4.5"/>
<path d="M916 349.6H993.8A5 5 0 0 1 998.8 354.6V372.3A5 5 0 0 1 993.8 377.3H961L916.8 387.6L943.3 377.3H915.8A5 5 0 0 1 910.8 372.3V354.6A5 5 0 0 1 915.8 349.6Z" fill="#ffffff" stroke="#a83a3a" stroke-width="1.2"/>
<text x="919.7" y="366.4" font-size="10.2" fill="#a83a3a" text-anchor="start" font-weight="normal" stroke="#a83a3a" stroke-width="0.15" textLength="69.7" lengthAdjust="spacingAndGlyphs">Downtrend line</text>
<path d="M744.8 495.2H769.7L806.5 464.8L783.5 495.2H808.4A5 5 0 0 1 813.4 500.2V518.2A5 5 0 0 1 808.4 523.2H744.8A5 5 0 0 1 739.8 518.2V500.2A5 5 0 0 1 744.8 495.2Z" fill="#ffffff" stroke="#a83a3a" stroke-width="1.2"/>
<text x="749.1" y="511.9" font-size="10.2" fill="#a83a3a" text-anchor="start" font-weight="normal" stroke="#a83a3a" stroke-width="0.15" textLength="55" lengthAdjust="spacingAndGlyphs">Support line</text>
<circle cx="987.1" cy="513.3" r="8" fill="#ffffff" stroke="#9c27b0" stroke-width="1.3"/>
<path d="M989.8 509.0L984.2 513.5H990.2L984.6 517.8" fill="none" stroke="#9c27b0" stroke-width="1.5" stroke-linejoin="round" stroke-linecap="round"/>
</g>
<g clip-path="url(#cr)">
<rect x="3.5" y="569.3" width="1079.5" height="100.0" fill="#7e57c2" fill-opacity="0.1"/>
<path d="M3.5 569.3H1083" stroke="#787b86" stroke-width="1" stroke-dasharray="4 4" stroke-opacity="1"/>
<path d="M3.5 619.3H1083" stroke="#787b86" stroke-width="1" stroke-dasharray="4 4" stroke-opacity="0.5"/>
<path d="M3.5 669.3H1083" stroke="#787b86" stroke-width="1" stroke-dasharray="4 4" stroke-opacity="1"/>
<defs><linearGradient id="gob" x1="0" y1="494.3" x2="0" y2="569.3" gradientUnits="userSpaceOnUse"><stop offset="0" stop-color="#4caf50" stop-opacity="0.9"/><stop offset="1" stop-color="#4caf50" stop-opacity="0"/></linearGradient><linearGradient id="gos" x1="0" y1="669.3" x2="0" y2="744.3" gradientUnits="userSpaceOnUse"><stop offset="0" stop-color="#f44336" stop-opacity="0"/><stop offset="1" stop-color="#f44336" stop-opacity="0.9"/></linearGradient><clipPath id="cob"><rect x="0" y="0" width="1144" height="569.3"/></clipPath><clipPath id="cos"><rect x="0" y="669.3" width="1144" height="200"/></clipPath></defs>
<polygon points="3.0,643.8 5.9,640.5 8.9,634.0 11.8,646.8 14.7,641.6 17.6,636.8 20.6,638.7 23.5,663.3 26.4,656.6 29.3,663.8 32.2,632.4 35.2,639.2 38.1,632.9 41.0,619.8 43.9,626.7 46.8,627.7 49.8,636.5 52.7,635.8 55.6,633.4 58.5,627.4 61.4,624.5 64.4,631.2 67.3,628.5 70.2,605.2 73.1,597.6 76.1,589.7 79.0,594.8 81.9,597.7 84.8,600.8 87.7,599.0 90.7,605.7 93.6,613.7 96.5,601.7 99.4,605.8 102.3,603.8 105.3,620.4 108.2,624.6 111.1,617.3 114.0,622.9 116.9,579.9 119.9,578.1 122.8,561.6 125.7,580.9 128.6,577.7 131.6,574.2 134.5,591.2 137.4,607.4 140.3,608.5 143.2,615.8 146.2,609.2 149.1,616.7 152.0,613.5 154.9,605.5 157.8,591.2 160.8,619.1 163.7,619.1 166.6,613.7 169.5,613.1 172.4,615.2 175.4,619.5 178.3,631.3 181.2,644.8 184.1,645.4 187.1,644.4 190.0,642.7 192.9,648.5 195.8,653.0 198.7,669.1 201.7,646.9 204.6,641.7 207.5,639.0 210.4,619.3 213.3,613.4 216.3,622.7 219.2,640.2 222.1,646.5 225.0,652.8 227.9,646.3 230.9,648.5 233.8,656.3 236.7,658.2 239.6,659.3 242.5,668.0 245.5,674.7 248.4,678.7 251.3,650.0 254.2,646.2 257.2,654.9 260.1,659.4 263.0,656.0 265.9,649.3 268.8,642.3 271.8,645.2 274.7,658.9 277.6,630.9 280.5,621.8 283.4,634.3 286.4,631.7 289.3,625.0 292.2,628.8 295.1,623.5 298.0,607.1 301.0,584.0 303.9,574.6 306.8,580.1 309.7,569.2 312.7,571.0 315.6,567.2 318.5,562.3 321.4,549.5 324.3,553.6 327.3,550.8 330.2,545.3 333.1,540.0 336.0,537.7 338.9,588.7 341.9,592.7 344.8,589.6 347.7,588.7 350.6,584.4 353.5,604.0 356.5,608.5 359.4,617.6 362.3,628.5 365.2,636.8 368.2,642.6 371.1,628.5 374.0,615.3 376.9,628.7 379.8,622.4 382.8,605.0 385.7,603.8 388.6,599.6 391.5,600.4 394.4,614.5 397.4,590.6 400.3,575.4 403.2,570.6 406.1,566.7 409.0,578.7 412.0,570.0 414.9,586.3 417.8,613.7 420.7,604.6 423.7,613.1 426.6,594.3 429.5,600.0 432.4,601.9 435.3,622.5 438.3,614.5 441.2,619.6 444.1,617.0 447.0,626.2 449.9,626.6 452.9,630.6 455.8,633.8 458.7,621.2 461.6,620.2 464.5,631.3 467.5,621.3 470.4,626.5 473.3,618.1 476.2,609.1 479.2,602.7 482.1,599.3 485.0,597.5 487.9,591.4 490.8,587.5 493.8,608.6 496.7,618.5 499.6,612.1 502.5,600.2 505.4,596.2 508.4,612.4 511.3,610.1 514.2,615.4 517.1,637.7 520.0,644.0 523.0,639.7 525.9,655.0 528.8,641.4 531.7,645.5 534.6,632.4 537.6,633.4 540.5,631.0 543.4,614.8 546.3,606.6 549.3,610.7 552.2,620.5 555.1,621.7 558.0,607.2 560.9,628.8 563.9,620.8 566.8,629.8 569.7,672.1 572.6,672.8 575.5,647.8 578.5,639.2 581.4,645.5 584.3,652.1 587.2,656.2 590.1,660.3 593.1,656.9 596.0,649.1 598.9,645.7 601.8,651.0 604.8,655.5 607.7,643.0 610.6,641.5 613.5,643.0 616.4,630.1 619.4,635.2 622.3,642.1 625.2,644.0 628.1,655.9 631.0,651.2 634.0,649.7 636.9,651.3 639.8,667.6 642.7,675.1 645.6,661.7 648.6,665.3 651.5,642.5 654.4,645.4 657.3,639.8 660.3,633.3 663.2,645.9 666.1,649.7 669.0,654.5 671.9,664.1 674.9,659.7 677.8,665.3 680.7,670.2 683.6,664.5 686.5,668.1 689.5,676.9 692.4,682.2 695.3,682.9 698.2,673.2 701.1,662.9 704.1,666.7 707.0,657.2 709.9,659.0 712.8,663.7 715.8,664.9 718.7,665.7 721.6,675.8 724.5,639.4 727.4,629.8 730.4,635.4 733.3,647.5 736.2,647.5 739.1,643.5 742.0,629.9 745.0,612.0 747.9,621.5 750.8,634.3 753.7,641.1 756.6,640.1 759.6,647.9 762.5,650.5 765.4,651.8 768.3,660.0 771.3,666.3 774.2,647.2 777.1,648.0 780.0,651.4 782.9,646.5 785.9,651.1 788.8,653.5 791.7,660.8 794.6,648.7 797.5,637.6 800.5,639.4 803.4,648.2 806.3,649.0 809.2,659.1 812.1,638.0 815.1,610.9 818.0,616.3 820.9,607.5 823.8,597.5 826.8,609.7 829.7,610.9 832.6,616.0 835.5,618.6 838.4,621.3 841.4,617.8 844.3,622.4 847.2,597.3 850.1,603.4 853.0,618.2 856.0,618.0 858.9,613.0 861.8,632.2 864.7,636.3 867.6,648.0 870.6,635.0 873.5,640.3 876.4,637.5 879.3,638.8 882.2,653.1 885.2,637.5 888.1,630.0 891.0,632.1 893.9,649.7 896.9,654.7 899.8,668.0 902.7,666.6 905.6,659.5 908.5,663.9 911.5,667.1 914.4,682.9 917.3,656.6 920.2,658.7 923.1,659.3 926.1,663.0 929.0,663.6 931.9,665.9 934.8,656.1 937.7,646.6 940.7,626.2 943.6,636.6 946.5,631.2 949.4,637.5 952.4,640.1 955.3,642.9 958.2,626.7 961.1,631.9 964.0,639.6 967.0,646.7 969.9,650.2 972.8,612.7 975.7,620.4 978.6,627.8 981.6,624.8 984.5,632.4 987.4,627.1 987.4,569.3 3.0,569.3" fill="url(#gob)" clip-path="url(#cob)"/>
<polygon points="3.0,643.8 5.9,640.5 8.9,634.0 11.8,646.8 14.7,641.6 17.6,636.8 20.6,638.7 23.5,663.3 26.4,656.6 29.3,663.8 32.2,632.4 35.2,639.2 38.1,632.9 41.0,619.8 43.9,626.7 46.8,627.7 49.8,636.5 52.7,635.8 55.6,633.4 58.5,627.4 61.4,624.5 64.4,631.2 67.3,628.5 70.2,605.2 73.1,597.6 76.1,589.7 79.0,594.8 81.9,597.7 84.8,600.8 87.7,599.0 90.7,605.7 93.6,613.7 96.5,601.7 99.4,605.8 102.3,603.8 105.3,620.4 108.2,624.6 111.1,617.3 114.0,622.9 116.9,579.9 119.9,578.1 122.8,561.6 125.7,580.9 128.6,577.7 131.6,574.2 134.5,591.2 137.4,607.4 140.3,608.5 143.2,615.8 146.2,609.2 149.1,616.7 152.0,613.5 154.9,605.5 157.8,591.2 160.8,619.1 163.7,619.1 166.6,613.7 169.5,613.1 172.4,615.2 175.4,619.5 178.3,631.3 181.2,644.8 184.1,645.4 187.1,644.4 190.0,642.7 192.9,648.5 195.8,653.0 198.7,669.1 201.7,646.9 204.6,641.7 207.5,639.0 210.4,619.3 213.3,613.4 216.3,622.7 219.2,640.2 222.1,646.5 225.0,652.8 227.9,646.3 230.9,648.5 233.8,656.3 236.7,658.2 239.6,659.3 242.5,668.0 245.5,674.7 248.4,678.7 251.3,650.0 254.2,646.2 257.2,654.9 260.1,659.4 263.0,656.0 265.9,649.3 268.8,642.3 271.8,645.2 274.7,658.9 277.6,630.9 280.5,621.8 283.4,634.3 286.4,631.7 289.3,625.0 292.2,628.8 295.1,623.5 298.0,607.1 301.0,584.0 303.9,574.6 306.8,580.1 309.7,569.2 312.7,571.0 315.6,567.2 318.5,562.3 321.4,549.5 324.3,553.6 327.3,550.8 330.2,545.3 333.1,540.0 336.0,537.7 338.9,588.7 341.9,592.7 344.8,589.6 347.7,588.7 350.6,584.4 353.5,604.0 356.5,608.5 359.4,617.6 362.3,628.5 365.2,636.8 368.2,642.6 371.1,628.5 374.0,615.3 376.9,628.7 379.8,622.4 382.8,605.0 385.7,603.8 388.6,599.6 391.5,600.4 394.4,614.5 397.4,590.6 400.3,575.4 403.2,570.6 406.1,566.7 409.0,578.7 412.0,570.0 414.9,586.3 417.8,613.7 420.7,604.6 423.7,613.1 426.6,594.3 429.5,600.0 432.4,601.9 435.3,622.5 438.3,614.5 441.2,619.6 444.1,617.0 447.0,626.2 449.9,626.6 452.9,630.6 455.8,633.8 458.7,621.2 461.6,620.2 464.5,631.3 467.5,621.3 470.4,626.5 473.3,618.1 476.2,609.1 479.2,602.7 482.1,599.3 485.0,597.5 487.9,591.4 490.8,587.5 493.8,608.6 496.7,618.5 499.6,612.1 502.5,600.2 505.4,596.2 508.4,612.4 511.3,610.1 514.2,615.4 517.1,637.7 520.0,644.0 523.0,639.7 525.9,655.0 528.8,641.4 531.7,645.5 534.6,632.4 537.6,633.4 540.5,631.0 543.4,614.8 546.3,606.6 549.3,610.7 552.2,620.5 555.1,621.7 558.0,607.2 560.9,628.8 563.9,620.8 566.8,629.8 569.7,672.1 572.6,672.8 575.5,647.8 578.5,639.2 581.4,645.5 584.3,652.1 587.2,656.2 590.1,660.3 593.1,656.9 596.0,649.1 598.9,645.7 601.8,651.0 604.8,655.5 607.7,643.0 610.6,641.5 613.5,643.0 616.4,630.1 619.4,635.2 622.3,642.1 625.2,644.0 628.1,655.9 631.0,651.2 634.0,649.7 636.9,651.3 639.8,667.6 642.7,675.1 645.6,661.7 648.6,665.3 651.5,642.5 654.4,645.4 657.3,639.8 660.3,633.3 663.2,645.9 666.1,649.7 669.0,654.5 671.9,664.1 674.9,659.7 677.8,665.3 680.7,670.2 683.6,664.5 686.5,668.1 689.5,676.9 692.4,682.2 695.3,682.9 698.2,673.2 701.1,662.9 704.1,666.7 707.0,657.2 709.9,659.0 712.8,663.7 715.8,664.9 718.7,665.7 721.6,675.8 724.5,639.4 727.4,629.8 730.4,635.4 733.3,647.5 736.2,647.5 739.1,643.5 742.0,629.9 745.0,612.0 747.9,621.5 750.8,634.3 753.7,641.1 756.6,640.1 759.6,647.9 762.5,650.5 765.4,651.8 768.3,660.0 771.3,666.3 774.2,647.2 777.1,648.0 780.0,651.4 782.9,646.5 785.9,651.1 788.8,653.5 791.7,660.8 794.6,648.7 797.5,637.6 800.5,639.4 803.4,648.2 806.3,649.0 809.2,659.1 812.1,638.0 815.1,610.9 818.0,616.3 820.9,607.5 823.8,597.5 826.8,609.7 829.7,610.9 832.6,616.0 835.5,618.6 838.4,621.3 841.4,617.8 844.3,622.4 847.2,597.3 850.1,603.4 853.0,618.2 856.0,618.0 858.9,613.0 861.8,632.2 864.7,636.3 867.6,648.0 870.6,635.0 873.5,640.3 876.4,637.5 879.3,638.8 882.2,653.1 885.2,637.5 888.1,630.0 891.0,632.1 893.9,649.7 896.9,654.7 899.8,668.0 902.7,666.6 905.6,659.5 908.5,663.9 911.5,667.1 914.4,682.9 917.3,656.6 920.2,658.7 923.1,659.3 926.1,663.0 929.0,663.6 931.9,665.9 934.8,656.1 937.7,646.6 940.7,626.2 943.6,636.6 946.5,631.2 949.4,637.5 952.4,640.1 955.3,642.9 958.2,626.7 961.1,631.9 964.0,639.6 967.0,646.7 969.9,650.2 972.8,612.7 975.7,620.4 978.6,627.8 981.6,624.8 984.5,632.4 987.4,627.1 987.4,669.3 3.0,669.3" fill="url(#gos)" clip-path="url(#cos)"/>
<polyline points="3.0,629.2 5.9,628.9 8.9,629.7 11.8,631.4 14.7,632.6 17.6,633.4 20.6,634.3 23.5,636.8 26.4,638.9 29.3,641.4 32.2,641.6 35.2,642.2 38.1,642.3 41.0,641.4 43.9,640.9 46.8,640.0 49.8,640.2 52.7,639.4 55.6,638.8 58.5,638.2 61.4,637.1 64.4,634.8 67.3,632.8 70.2,628.6 73.1,626.2 76.1,622.6 79.0,619.9 81.9,618.3 84.8,616.5 87.7,614.4 90.7,612.2 93.6,610.7 96.5,608.4 99.4,606.9 102.3,605.4 105.3,604.6 108.2,604.3 111.1,605.2 114.0,607.0 116.9,606.3 119.9,605.1 122.8,602.5 125.7,601.1 128.6,599.6 131.6,597.3 134.5,595.7 137.4,596.1 140.3,596.3 143.2,597.2 146.2,596.4 149.1,595.8 152.0,595.5 154.9,594.3 157.8,595.1 160.8,598.0 163.7,602.1 166.6,604.5 169.5,607.0 172.4,609.9 175.4,612.0 178.3,613.7 181.2,616.3 184.1,618.4 187.1,620.9 190.0,622.8 192.9,625.3 195.8,628.7 198.7,634.2 201.7,636.2 204.6,637.8 207.5,639.6 210.4,640.1 213.3,639.9 216.3,640.2 219.2,640.8 222.1,640.9 225.0,641.4 227.9,641.6 230.9,642.0 233.8,642.5 236.7,642.9 239.6,642.2 242.5,643.7 245.5,646.1 248.4,648.9 251.3,651.1 254.2,653.5 257.2,655.8 260.1,657.1 263.0,657.8 265.9,657.6 268.8,657.3 271.8,657.0 274.7,657.2 277.6,655.3 280.5,652.6 283.4,650.2 286.4,647.1 289.3,643.3 292.2,641.8 295.1,640.1 298.0,636.7 301.0,631.3 303.9,625.5 306.8,620.6 309.7,615.4 312.7,610.1 315.6,603.5 318.5,598.6 321.4,593.5 324.3,587.7 327.3,581.9 330.2,576.2 333.1,569.9 336.0,563.8 338.9,562.4 341.9,563.1 344.8,564.1 347.7,564.7 350.6,565.8 353.5,568.2 356.5,571.1 359.4,575.1 362.3,580.7 365.2,586.7 368.2,593.2 371.1,599.2 374.0,604.5 376.9,611.0 379.8,613.4 382.8,614.3 385.7,615.3 388.6,616.1 391.5,617.3 394.4,618.0 397.4,616.7 400.3,613.7 403.2,609.6 406.1,604.6 409.0,600.0 412.0,595.8 414.9,593.8 417.8,592.7 420.7,591.4 423.7,592.0 426.6,591.3 429.5,591.4 432.4,591.5 435.3,592.0 438.3,593.7 441.2,596.9 444.1,600.2 447.0,604.5 449.9,607.9 452.9,612.2 455.8,615.6 458.7,616.1 461.6,617.3 464.5,618.6 467.5,620.5 470.4,622.4 473.3,623.5 476.2,622.6 479.2,621.7 482.1,620.3 485.0,618.9 487.9,616.4 490.8,613.6 493.8,612.1 496.7,611.0 499.6,610.3 502.5,608.9 505.4,606.4 508.4,605.7 511.3,604.5 514.2,604.4 517.1,606.4 520.0,609.3 523.0,612.2 525.9,616.3 528.8,619.9 531.7,624.0 534.6,625.7 537.6,626.8 540.5,628.2 543.4,629.2 546.3,629.9 549.3,629.8 552.2,630.6 555.1,631.0 558.0,628.8 560.9,627.8 563.9,626.4 566.8,624.6 569.7,626.8 572.6,628.8 575.5,629.9 578.5,630.3 581.4,631.3 584.3,634.0 587.2,637.5 590.1,641.1 593.1,643.7 596.0,645.6 598.9,648.4 601.8,650.0 604.8,652.4 607.7,653.4 610.6,651.2 613.5,649.1 616.4,647.8 619.4,647.5 622.3,647.3 625.2,646.7 628.1,646.7 631.0,646.0 634.0,645.5 636.9,645.7 639.8,647.2 642.7,648.9 645.6,649.4 648.6,651.0 651.5,651.1 654.4,651.2 657.3,651.9 660.3,651.8 663.2,652.0 666.1,652.5 669.0,652.4 671.9,653.3 674.9,654.0 677.8,655.0 680.7,655.2 683.6,654.4 686.5,654.9 689.5,655.7 692.4,658.5 695.3,661.2 698.2,663.6 701.1,665.7 704.1,667.2 707.0,667.7 709.9,668.0 712.8,668.0 715.8,668.4 718.7,668.4 721.6,668.8 724.5,667.0 727.4,664.3 730.4,661.3 733.3,658.9 736.2,656.3 739.1,654.2 742.0,651.9 745.0,647.9 747.9,645.4 750.8,643.6 753.7,642.0 756.6,640.2 759.6,639.0 762.5,637.2 765.4,638.1 768.3,640.2 771.3,642.4 774.2,642.4 777.1,642.4 780.0,643.0 782.9,644.2 785.9,647.0 788.8,649.3 791.7,651.2 794.6,651.7 797.5,651.5 800.5,650.9 803.4,650.7 806.3,650.5 809.2,650.5 812.1,648.5 815.1,645.9 818.0,643.6 820.9,640.5 823.8,637.0 826.8,634.0 829.7,631.0 832.6,627.8 835.5,625.6 838.4,624.5 841.4,622.9 844.3,621.1 847.2,617.4 850.1,613.4 853.0,612.0 856.0,612.5 858.9,612.3 861.8,614.0 864.7,616.8 867.6,619.5 870.6,621.3 873.5,623.0 876.4,624.3 879.3,625.6 882.2,628.1 885.2,629.2 888.1,631.5 891.0,633.6 893.9,635.8 896.9,638.5 899.8,642.4 902.7,644.8 905.6,646.5 908.5,647.6 911.5,649.9 914.4,653.0 917.3,654.3 920.2,655.7 923.1,656.2 926.1,658.0 929.0,660.4 931.9,662.8 934.8,663.3 937.7,662.7 940.7,659.7 943.6,657.6 946.5,655.5 949.4,653.7 952.4,651.7 955.3,648.9 958.2,646.7 961.1,644.8 964.0,643.4 967.0,642.3 969.9,641.3 972.8,637.5 975.7,635.0 978.6,633.6 981.6,633.5 984.5,633.2 987.4,632.9" fill="none" stroke="#fdd835" stroke-width="1.2"/>
<polyline points="3.0,643.8 5.9,640.5 8.9,634.0 11.8,646.8 14.7,641.6 17.6,636.8 20.6,638.7 23.5,663.3 26.4,656.6 29.3,663.8 32.2,632.4 35.2,639.2 38.1,632.9 41.0,619.8 43.9,626.7 46.8,627.7 49.8,636.5 52.7,635.8 55.6,633.4 58.5,627.4 61.4,624.5 64.4,631.2 67.3,628.5 70.2,605.2 73.1,597.6 76.1,589.7 79.0,594.8 81.9,597.7 84.8,600.8 87.7,599.0 90.7,605.7 93.6,613.7 96.5,601.7 99.4,605.8 102.3,603.8 105.3,620.4 108.2,624.6 111.1,617.3 114.0,622.9 116.9,579.9 119.9,578.1 122.8,561.6 125.7,580.9 128.6,577.7 131.6,574.2 134.5,591.2 137.4,607.4 140.3,608.5 143.2,615.8 146.2,609.2 149.1,616.7 152.0,613.5 154.9,605.5 157.8,591.2 160.8,619.1 163.7,619.1 166.6,613.7 169.5,613.1 172.4,615.2 175.4,619.5 178.3,631.3 181.2,644.8 184.1,645.4 187.1,644.4 190.0,642.7 192.9,648.5 195.8,653.0 198.7,669.1 201.7,646.9 204.6,641.7 207.5,639.0 210.4,619.3 213.3,613.4 216.3,622.7 219.2,640.2 222.1,646.5 225.0,652.8 227.9,646.3 230.9,648.5 233.8,656.3 236.7,658.2 239.6,659.3 242.5,668.0 245.5,674.7 248.4,678.7 251.3,650.0 254.2,646.2 257.2,654.9 260.1,659.4 263.0,656.0 265.9,649.3 268.8,642.3 271.8,645.2 274.7,658.9 277.6,630.9 280.5,621.8 283.4,634.3 286.4,631.7 289.3,625.0 292.2,628.8 295.1,623.5 298.0,607.1 301.0,584.0 303.9,574.6 306.8,580.1 309.7,569.2 312.7,571.0 315.6,567.2 318.5,562.3 321.4,549.5 324.3,553.6 327.3,550.8 330.2,545.3 333.1,540.0 336.0,537.7 338.9,588.7 341.9,592.7 344.8,589.6 347.7,588.7 350.6,584.4 353.5,604.0 356.5,608.5 359.4,617.6 362.3,628.5 365.2,636.8 368.2,642.6 371.1,628.5 374.0,615.3 376.9,628.7 379.8,622.4 382.8,605.0 385.7,603.8 388.6,599.6 391.5,600.4 394.4,614.5 397.4,590.6 400.3,575.4 403.2,570.6 406.1,566.7 409.0,578.7 412.0,570.0 414.9,586.3 417.8,613.7 420.7,604.6 423.7,613.1 426.6,594.3 429.5,600.0 432.4,601.9 435.3,622.5 438.3,614.5 441.2,619.6 444.1,617.0 447.0,626.2 449.9,626.6 452.9,630.6 455.8,633.8 458.7,621.2 461.6,620.2 464.5,631.3 467.5,621.3 470.4,626.5 473.3,618.1 476.2,609.1 479.2,602.7 482.1,599.3 485.0,597.5 487.9,591.4 490.8,587.5 493.8,608.6 496.7,618.5 499.6,612.1 502.5,600.2 505.4,596.2 508.4,612.4 511.3,610.1 514.2,615.4 517.1,637.7 520.0,644.0 523.0,639.7 525.9,655.0 528.8,641.4 531.7,645.5 534.6,632.4 537.6,633.4 540.5,631.0 543.4,614.8 546.3,606.6 549.3,610.7 552.2,620.5 555.1,621.7 558.0,607.2 560.9,628.8 563.9,620.8 566.8,629.8 569.7,672.1 572.6,672.8 575.5,647.8 578.5,639.2 581.4,645.5 584.3,652.1 587.2,656.2 590.1,660.3 593.1,656.9 596.0,649.1 598.9,645.7 601.8,651.0 604.8,655.5 607.7,643.0 610.6,641.5 613.5,643.0 616.4,630.1 619.4,635.2 622.3,642.1 625.2,644.0 628.1,655.9 631.0,651.2 634.0,649.7 636.9,651.3 639.8,667.6 642.7,675.1 645.6,661.7 648.6,665.3 651.5,642.5 654.4,645.4 657.3,639.8 660.3,633.3 663.2,645.9 666.1,649.7 669.0,654.5 671.9,664.1 674.9,659.7 677.8,665.3 680.7,670.2 683.6,664.5 686.5,668.1 689.5,676.9 692.4,682.2 695.3,682.9 698.2,673.2 701.1,662.9 704.1,666.7 707.0,657.2 709.9,659.0 712.8,663.7 715.8,664.9 718.7,665.7 721.6,675.8 724.5,639.4 727.4,629.8 730.4,635.4 733.3,647.5 736.2,647.5 739.1,643.5 742.0,629.9 745.0,612.0 747.9,621.5 750.8,634.3 753.7,641.1 756.6,640.1 759.6,647.9 762.5,650.5 765.4,651.8 768.3,660.0 771.3,666.3 774.2,647.2 777.1,648.0 780.0,651.4 782.9,646.5 785.9,651.1 788.8,653.5 791.7,660.8 794.6,648.7 797.5,637.6 800.5,639.4 803.4,648.2 806.3,649.0 809.2,659.1 812.1,638.0 815.1,610.9 818.0,616.3 820.9,607.5 823.8,597.5 826.8,609.7 829.7,610.9 832.6,616.0 835.5,618.6 838.4,621.3 841.4,617.8 844.3,622.4 847.2,597.3 850.1,603.4 853.0,618.2 856.0,618.0 858.9,613.0 861.8,632.2 864.7,636.3 867.6,648.0 870.6,635.0 873.5,640.3 876.4,637.5 879.3,638.8 882.2,653.1 885.2,637.5 888.1,630.0 891.0,632.1 893.9,649.7 896.9,654.7 899.8,668.0 902.7,666.6 905.6,659.5 908.5,663.9 911.5,667.1 914.4,682.9 917.3,656.6 920.2,658.7 923.1,659.3 926.1,663.0 929.0,663.6 931.9,665.9 934.8,656.1 937.7,646.6 940.7,626.2 943.6,636.6 946.5,631.2 949.4,637.5 952.4,640.1 955.3,642.9 958.2,626.7 961.1,631.9 964.0,639.6 967.0,646.7 969.9,650.2 972.8,612.7 975.7,620.4 978.6,627.8 981.6,624.8 984.5,632.4 987.4,627.1" fill="none" stroke="#7e57c2" stroke-width="2.5" stroke-linejoin="round"/>
</g>
<path d="M3.5 18.5H1138.5V718H3.5Z M3.5 694.3H1138.5 M1083 18.5V718" fill="none" stroke="#ebebeb" stroke-width="1"/>
<path d="M3.5 524.3H1138.5" fill="none" stroke="#e0e3eb" stroke-width="1"/>
<text x="10.6" y="35" font-size="10" fill="#131722" text-anchor="start" font-weight="normal" stroke="#131722" stroke-width="0.15" textLength="155.7" lengthAdjust="spacingAndGlyphs">Cardano / TetherUS · 1D · Binance</text>
<text x="173" y="35" font-size="10" fill="#131722" text-anchor="start" font-weight="normal" stroke="#131722" stroke-width="0.15">O</text>
<text x="179.8" y="35" font-size="10" fill="#26a69a" text-anchor="start" font-weight="normal" stroke="#26a69a" stroke-width="0.15" textLength="30.8" lengthAdjust="spacingAndGlyphs">0.2735</text>
<text x="216.4" y="35" font-size="10" fill="#131722" text-anchor="start" font-weight="normal" stroke="#131722" stroke-width="0.15">H</text>
<text x="222.9" y="35" font-size="10" fill="#26a69a" text-anchor="start" font-weight="normal" stroke="#26a69a" stroke-width="0.15" textLength="30.8" lengthAdjust="spacingAndGlyphs">0.2805</text>
<text x="259.5" y="35" font-size="10" fill="#131722" text-anchor="start" font-weight="normal" stroke="#131722" stroke-width="0.15">L</text>
<text x="264.8" y="35" font-size="10" fill="#26a69a" text-anchor="start" font-weight="normal" stroke="#26a69a" stroke-width="0.15" textLength="30.8" lengthAdjust="spacingAndGlyphs">0.2685</text>
<text x="301.4" y="35" font-size="10" fill="#131722" text-anchor="start" font-weight="normal" stroke="#131722" stroke-width="0.15">C</text>
<text x="307.9" y="35" font-size="10" fill="#26a69a" text-anchor="start" font-weight="normal" stroke="#26a69a" stroke-width="0.15" textLength="30.8" lengthAdjust="spacingAndGlyphs">0.2763</text>
<text x="344.5" y="35" font-size="10" fill="#26a69a" text-anchor="start" font-weight="normal" stroke="#26a69a" stroke-width="0.15" textLength="76" lengthAdjust="spacingAndGlyphs">+0.0028 (+1.02%)</text>
<text x="10.6" y="49.2" font-size="10" fill="#131722" text-anchor="start" font-weight="normal" stroke="#131722" stroke-width="0.15" textLength="68.2" lengthAdjust="spacingAndGlyphs">EMA (20, close)</text>
<text x="86.2" y="49.2" font-size="10" fill="#2962ff" text-anchor="start" font-weight="normal" stroke="#2962ff" stroke-width="0.15" textLength="30.1" lengthAdjust="spacingAndGlyphs">0.2808</text>
<text x="10.6" y="63.8" font-size="10" fill="#131722" text-anchor="start" font-weight="normal" stroke="#131722" stroke-width="0.15" textLength="68.2" lengthAdjust="spacingAndGlyphs">SMA (50, close)</text>
<text x="86.2" y="63.8" font-size="10" fill="#f23645" text-anchor="start" font-weight="normal" stroke="#f23645" stroke-width="0.15" textLength="30" lengthAdjust="spacingAndGlyphs">0.3120</text>
<text x="10.7" y="541" font-size="10" fill="#131722" text-anchor="start" font-weight="normal" stroke="#131722" stroke-width="0.15" textLength="63.5" lengthAdjust="spacingAndGlyphs">RSI (14, close)</text>
<text x="81.9" y="541" font-size="10" fill="#7e57c2" text-anchor="start" font-weight="normal" stroke="#7e57c2" stroke-width="0.15" textLength="24.5" lengthAdjust="spacingAndGlyphs">46.17</text>
<text x="112.4" y="541" font-size="10" fill="#fdd835" text-anchor="start" font-weight="normal" stroke="#fdd835" stroke-width="0.15" textLength="24.9" lengthAdjust="spacingAndGlyphs">44.22</text>
<rect x="1085.6" y="22.4" width="49.8" height="22" rx="4" fill="#ffffff" stroke="#e0e3eb" stroke-width="1"/>
<text x="1093.8" y="37.7" font-size="10" fill="#131722" text-anchor="start" font-weight="normal" stroke="#131722" stroke-width="0.15" textLength="23.3" lengthAdjust="spacingAndGlyphs">USDT</text>
<text x="1090.6" y="58.9" font-size="10" fill="#131722" text-anchor="start" font-weight="normal" stroke="#131722" stroke-width="0.15" textLength="29.8" lengthAdjust="spacingAndGlyphs">1.0000</text>
<text x="1090.6" y="87.30000000000001" font-size="10" fill="#131722" text-anchor="start" font-weight="normal" stroke="#131722" stroke-width="0.15" textLength="29.8" lengthAdjust="spacingAndGlyphs">0.9500</text>
<text x="1090.6" y="115.69999999999999" font-size="10" fill="#131722" text-anchor="start" font-weight="normal" stroke="#131722" stroke-width="0.15" textLength="29.8" lengthAdjust="spacingAndGlyphs">0.9000</text>
<text x="1090.6" y="144.1" font-size="10" fill="#131722" text-anchor="start" font-weight="normal" stroke="#131722" stroke-width="0.15" textLength="29.8" lengthAdjust="spacingAndGlyphs">0.8500</text>
<text x="1090.6" y="172.49999999999997" font-size="10" fill="#131722" text-anchor="start" font-weight="normal" stroke="#131722" stroke-width="0.15" textLength="29.8" lengthAdjust="spacingAndGlyphs">0.8000</text>
<text x="1090.6" y="200.9" font-size="10" fill="#131722" text-anchor="start" font-weight="normal" stroke="#131722" stroke-width="0.15" textLength="29.8" lengthAdjust="spacingAndGlyphs">0.7500</text>
<text x="1090.6" y="229.30000000000004" font-size="10" fill="#131722" text-anchor="start" font-weight="normal" stroke="#131722" stroke-width="0.15" textLength="29.8" lengthAdjust="spacingAndGlyphs">0.7000</text>
<text x="1090.6" y="257.70000000000005" font-size="10" fill="#131722" text-anchor="start" font-weight="normal" stroke="#131722" stroke-width="0.15" textLength="29.8" lengthAdjust="spacingAndGlyphs">0.6500</text>
<text x="1090.6" y="286.1" font-size="10" fill="#131722" text-anchor="start" font-weight="normal" stroke="#131722" stroke-width="0.15" textLength="29.8" lengthAdjust="spacingAndGlyphs">0.6000</text>
<text x="1090.6" y="314.5" font-size="10" fill="#131722" text-anchor="start" font-weight="normal" stroke="#131722" stroke-width="0.15" textLength="29.8" lengthAdjust="spacingAndGlyphs">0.5500</text>
<text x="1090.6" y="371.30000000000007" font-size="10" fill="#131722" text-anchor="start" font-weight="normal" stroke="#131722" stroke-width="0.15" textLength="29.8" lengthAdjust="spacingAndGlyphs">0.4500</text>
<text x="1090.6" y="399.7000000000001" font-size="10" fill="#131722" text-anchor="start" font-weight="normal" stroke="#131722" stroke-width="0.15" textLength="29.8" lengthAdjust="spacingAndGlyphs">0.4000</text>
<text x="1090.6" y="428.1" font-size="10" fill="#131722" text-anchor="start" font-weight="normal" stroke="#131722" stroke-width="0.15" textLength="29.8" lengthAdjust="spacingAndGlyphs">0.3500</text>
<text x="1090.6" y="513.3000000000001" font-size="10" fill="#131722" text-anchor="start" font-weight="normal" stroke="#131722" stroke-width="0.15" textLength="29.8" lengthAdjust="spacingAndGlyphs">0.2000</text>
<path d="M1083.2 332.3H1122.8A2 2 0 0 1 1124.8 334.3V344.7A2 2 0 0 1 1122.8 346.7H1083.2Z" fill="#0000ff"/>
<text x="1089.8" y="343.2" font-size="10" fill="#ffffff" text-anchor="start" font-weight="normal" stroke="#ffffff" stroke-width="0.15" textLength="30.2" lengthAdjust="spacingAndGlyphs">0.5000</text>
<rect x="1040" y="431" width="42.3" height="13.7" rx="2" fill="#f23645"/>
<text x="1044" y="441.3" font-size="10" fill="#ffffff" text-anchor="start" font-weight="normal" stroke="#ffffff" stroke-width="0.15" textLength="35" lengthAdjust="spacingAndGlyphs">SMA:MA</text>
<rect x="1083.8" y="431" width="41" height="13.7" rx="2" fill="#f23645"/>
<text x="1089.8" y="441.3" font-size="10" fill="#ffffff" text-anchor="start" font-weight="normal" stroke="#ffffff" stroke-width="0.15" textLength="30.4" lengthAdjust="spacingAndGlyphs">0.3120</text>
<rect x="1056.4" y="445.4" width="25.9" height="14" rx="2" fill="#2962ff"/>
<text x="1060.2" y="455.8" font-size="10" fill="#ffffff" text-anchor="start" font-weight="normal" stroke="#ffffff" stroke-width="0.15" textLength="19" lengthAdjust="spacingAndGlyphs">EMA</text>
<rect x="1083.8" y="445.4" width="41" height="14" rx="2" fill="#2962ff"/>
<text x="1089.8" y="455.8" font-size="10" fill="#ffffff" text-anchor="start" font-weight="normal" stroke="#ffffff" stroke-width="0.15" textLength="30.4" lengthAdjust="spacingAndGlyphs">0.2808</text>
<rect x="1033.5" y="459.9" width="48.8" height="13.9" rx="2" fill="#26a69a"/>
<text x="1037.2" y="470.2" font-size="10" fill="#ffffff" text-anchor="start" font-weight="normal" stroke="#ffffff" stroke-width="0.15" textLength="41.5" lengthAdjust="spacingAndGlyphs">ADAUSDT</text>
<rect x="1083.8" y="459.9" width="50.3" height="37.3" rx="2" fill="#26a69a"/>
<text x="1089.8" y="470.2" font-size="10" fill="#ffffff" text-anchor="start" font-weight="normal" stroke="#ffffff" stroke-width="0.15" textLength="30.4" lengthAdjust="spacingAndGlyphs">0.2763</text>
<text x="1089.8" y="482.8" font-size="10" fill="#ffffff" text-anchor="start" font-weight="normal" stroke="#ffffff" stroke-width="0.15" textLength="36.4" lengthAdjust="spacingAndGlyphs">−58.22%</text>
<text x="1089.8" y="495.2" font-size="10" fill="#ffffff" text-anchor="start" font-weight="normal" stroke="#ffffff" stroke-width="0.15" textLength="39.6" lengthAdjust="spacingAndGlyphs" fill-opacity="0.8">09:10:49</text>
<text x="1090.2" y="547.9" font-size="10" fill="#131722" text-anchor="start" font-weight="normal" stroke="#131722" stroke-width="0.15" textLength="25.3" lengthAdjust="spacingAndGlyphs">80.00</text>
<text x="1090.2" y="597.9" font-size="10" fill="#131722" text-anchor="start" font-weight="normal" stroke="#131722" stroke-width="0.15" textLength="25.3" lengthAdjust="spacingAndGlyphs">60.00</text>
<rect x="1061.2" y="622.6" width="20.8" height="13.7" rx="2" fill="#7e57c2"/>
<text x="1064.5" y="632.9" font-size="10" fill="#ffffff" text-anchor="start" font-weight="normal" stroke="#ffffff" stroke-width="0.15" textLength="14.4" lengthAdjust="spacingAndGlyphs">RSI</text>
<rect x="1083.8" y="622.6" width="35.9" height="13.7" rx="2" fill="#7e57c2"/>
<text x="1089.8" y="632.9" font-size="10" fill="#ffffff" text-anchor="start" font-weight="normal" stroke="#ffffff" stroke-width="0.15" textLength="24.8" lengthAdjust="spacingAndGlyphs">46.17</text>
<rect x="1015.3" y="637.3" width="67" height="13.7" rx="2" fill="#fdd835"/>
<text x="1019.2" y="647.6" font-size="10" fill="#131722" text-anchor="start" font-weight="normal" stroke="#131722" stroke-width="0.15" textLength="59.6" lengthAdjust="spacingAndGlyphs">RSI-based MA</text>
<rect x="1083.8" y="637.3" width="35.9" height="13.7" rx="2" fill="#fdd835"/>
<text x="1089.8" y="647.6" font-size="10" fill="#131722" text-anchor="start" font-weight="normal" stroke="#131722" stroke-width="0.15" textLength="24.8" lengthAdjust="spacingAndGlyphs">44.22</text>
<g clip-path="url(#ct)">
<text x="9.0" y="710" font-size="10" fill="#131722" text-anchor="middle" font-weight="normal" stroke="#131722" stroke-width="0.15">Apr</text>
<text x="96.3" y="710" font-size="10" fill="#131722" text-anchor="middle" font-weight="normal" stroke="#131722" stroke-width="0.15">May</text>
<text x="187.6" y="710" font-size="10" fill="#131722" text-anchor="middle" font-weight="normal" stroke="#131722" stroke-width="0.15">Jun</text>
<text x="274.3" y="710" font-size="10" fill="#131722" text-anchor="middle" font-weight="normal" stroke="#131722" stroke-width="0.15">Jul</text>
<text x="365.3" y="710" font-size="10" fill="#131722" text-anchor="middle" font-weight="normal" stroke="#131722" stroke-width="0.15">Aug</text>
<text x="455.6" y="710" font-size="10" fill="#131722" text-anchor="middle" font-weight="normal" stroke="#131722" stroke-width="0.15">Sep</text>
<text x="543.3" y="710" font-size="10" fill="#131722" text-anchor="middle" font-weight="normal" stroke="#131722" stroke-width="0.15">Oct</text>
<text x="634.3" y="710" font-size="10" fill="#131722" text-anchor="middle" font-weight="normal" stroke="#131722" stroke-width="0.15">Nov</text>
<text x="721.5" y="710" font-size="10" fill="#131722" text-anchor="middle" font-weight="normal" stroke="#131722" stroke-width="0.15">Dec</text>
<text x="812.3" y="710" font-size="10" fill="#131722" text-anchor="middle" font-weight="bold">2026</text>
<text x="902.4" y="710" font-size="10" fill="#131722" text-anchor="middle" font-weight="normal" stroke="#131722" stroke-width="0.15">Feb</text>
<text x="984.3" y="710" font-size="10" fill="#131722" text-anchor="middle" font-weight="normal" stroke="#131722" stroke-width="0.15">Mar</text>
<text x="1075.5" y="710" font-size="10" fill="#131722" text-anchor="middle" font-weight="normal" stroke="#131722" stroke-width="0.15">Apr</text>
</g>
<g fill="#111111">
<path d="M5.2 737.1H15V749.2H10.3V741.7H5.2Z"/>
<circle cx="19.3" cy="739.6" r="2.3"/>
<path d="M24.8 737.1H30.3L25.9 749.2H19.9Z"/>
</g>
<text x="36.7" y="749.5" font-size="17.5" fill="#111111" text-anchor="start" font-weight="bold" textLength="102.3" lengthAdjust="spacingAndGlyphs">TradingView</text>
</svg></body></html>
